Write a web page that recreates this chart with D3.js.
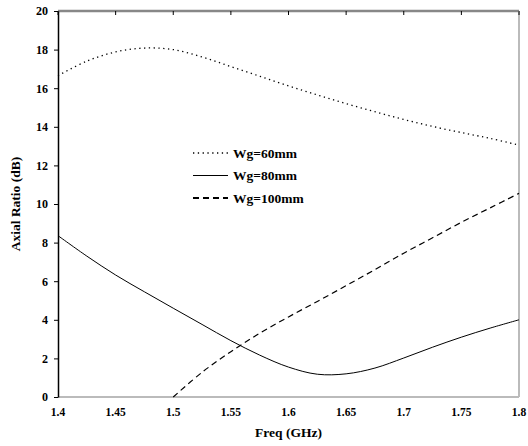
<!DOCTYPE html>
<html>
<head>
<meta charset="utf-8">
<script src="https://cdn.jsdelivr.net/npm/d3@7"></script>
<style>
  body { margin: 0; background: #fff; }
  text { font-family: "Liberation Serif", "Times New Roman", serif; font-weight: bold; }
</style>
</head>
<body>
<div id="chart"></div>
<script>
// frequencies (GHz)
var freq = [1.4, 1.425, 1.45, 1.475, 1.5, 1.525, 1.55, 1.575, 1.6, 1.625, 1.65, 1.675, 1.7, 1.725, 1.75, 1.775, 1.8];
var wg60 = [16.65, 17.4, 17.88, 18.08, 18.0, 17.62, 17.12, 16.62, 16.12, 15.65, 15.2, 14.78, 14.38, 14.02, 13.7, 13.4, 13.05];
var wg80 = [8.36, 7.3, 6.32, 5.45, 4.6, 3.76, 2.92, 2.17, 1.55, 1.18, 1.2, 1.5, 2.02, 2.58, 3.1, 3.57, 4.0];
var freq100 = [1.5, 1.525, 1.55, 1.575, 1.6, 1.625, 1.65, 1.675, 1.7, 1.725, 1.75, 1.775, 1.8];
var wg100 = [0, 1.28, 2.35, 3.3, 4.15, 4.95, 5.77, 6.6, 7.45, 8.25, 9.05, 9.8, 10.55];
var xTicks = [1.4, 1.45, 1.5, 1.55, 1.6, 1.65, 1.7, 1.75, 1.8];
var yTicks = [0, 2, 4, 6, 8, 10, 12, 14, 16, 18, 20];
var legendLabels = ["Wg=60mm", "Wg=80mm", "Wg=100mm"];

var W = 528, H = 446;
var margin = {top: 11, right: 9, bottom: 49, left: 58};
var width = W - margin.left - margin.right,
    height = H - margin.top - margin.bottom;

var svg = d3.select("#chart").append("svg")
    .attr("width", W)
    .attr("height", H)
  .append("g")
    .attr("transform", "translate(" + margin.left + "," + margin.top + ")");

var x = d3.scaleLinear().domain([1.4, 1.8]).range([0, width]);
var y = d3.scaleLinear().domain([0, 20]).range([height, 0]);

// frame: top dark gray, right and bottom light gray
svg.append("line").attr("x1", 0).attr("x2", width).attr("y1", 0).attr("y2", 0)
    .attr("stroke", "#888").attr("stroke-width", 2.5);
svg.append("line").attr("x1", width).attr("x2", width).attr("y1", 0).attr("y2", height)
    .attr("stroke", "#bbb").attr("stroke-width", 2);
svg.append("line").attr("x1", 0).attr("x2", width).attr("y1", height).attr("y2", height)
    .attr("stroke", "#bbb").attr("stroke-width", 2);

// top ticks pointing down
svg.selectAll(".ttick").data(xTicks).enter().append("line")
    .attr("x1", function(d) { return x(d); }).attr("x2", function(d) { return x(d); })
    .attr("y1", 0).attr("y2", 4)
    .attr("stroke", "#000").attr("stroke-width", 1);

// x axis labels
svg.selectAll(".xlab").data(xTicks).enter().append("text")
    .attr("x", function(d) { return x(d); })
    .attr("y", height + 19)
    .attr("text-anchor", "middle")
    .attr("font-size", "11.5px")
    .text(function(d) { return d; });

// y axis
var yAxis = svg.append("g")
    .call(d3.axisLeft(y).tickValues(yTicks).tickSize(4).tickSizeOuter(0).tickPadding(6));
yAxis.select(".domain").attr("stroke", "#000").attr("stroke-width", 1.5);
yAxis.selectAll("text")
    .attr("font-size", "12px")
    .attr("font-family", "Liberation Serif, serif")
    .attr("font-weight", "bold")
    .attr("fill", "#000");

// axis titles
svg.append("text")
    .attr("x", width / 2).attr("y", height + 40)
    .attr("text-anchor", "middle")
    .attr("font-size", "13.5px")
    .text("Freq (GHz)");
svg.append("text")
    .attr("transform", "translate(-38," + (height / 2) + ") rotate(-90)")
    .attr("text-anchor", "middle")
    .attr("font-size", "13.5px")
    .text("Axial Ratio (dB)");

var line = d3.line()
    .x(function(d) { return x(d[0]); })
    .y(function(d) { return y(d[1]); })
    .curve(d3.curveCatmullRom);

var series = [
  {pts: d3.zip(freq, wg60), dash: "1.3,3.5", w: 1.3},
  {pts: d3.zip(freq, wg80), dash: null, w: 1},
  {pts: d3.zip(freq100, wg100), dash: "6,4", w: 1.2}
];

series.forEach(function(s) {
  svg.append("path")
      .datum(s.pts)
      .attr("d", line)
      .attr("fill", "none")
      .attr("stroke", "#000")
      .attr("stroke-width", s.w)
      .attr("stroke-dasharray", s.dash);
});

// legend
var legend = svg.append("g").attr("transform", "translate(135,142)");
legendLabels.forEach(function(lbl, i) {
  var yy = i * 22.5;
  legend.append("line")
      .attr("x1", 0).attr("x2", 35).attr("y1", yy).attr("y2", yy)
      .attr("stroke", "#000")
      .attr("stroke-width", series[i].w + (i == 2 ? 0.6 : 0.2))
      .attr("stroke-dasharray", series[i].dash);
  legend.append("text")
      .attr("x", 40).attr("y", yy + 4.5)
      .attr("font-size", "13.5px")
      .text(lbl);
});
</script>
</body>
</html>
